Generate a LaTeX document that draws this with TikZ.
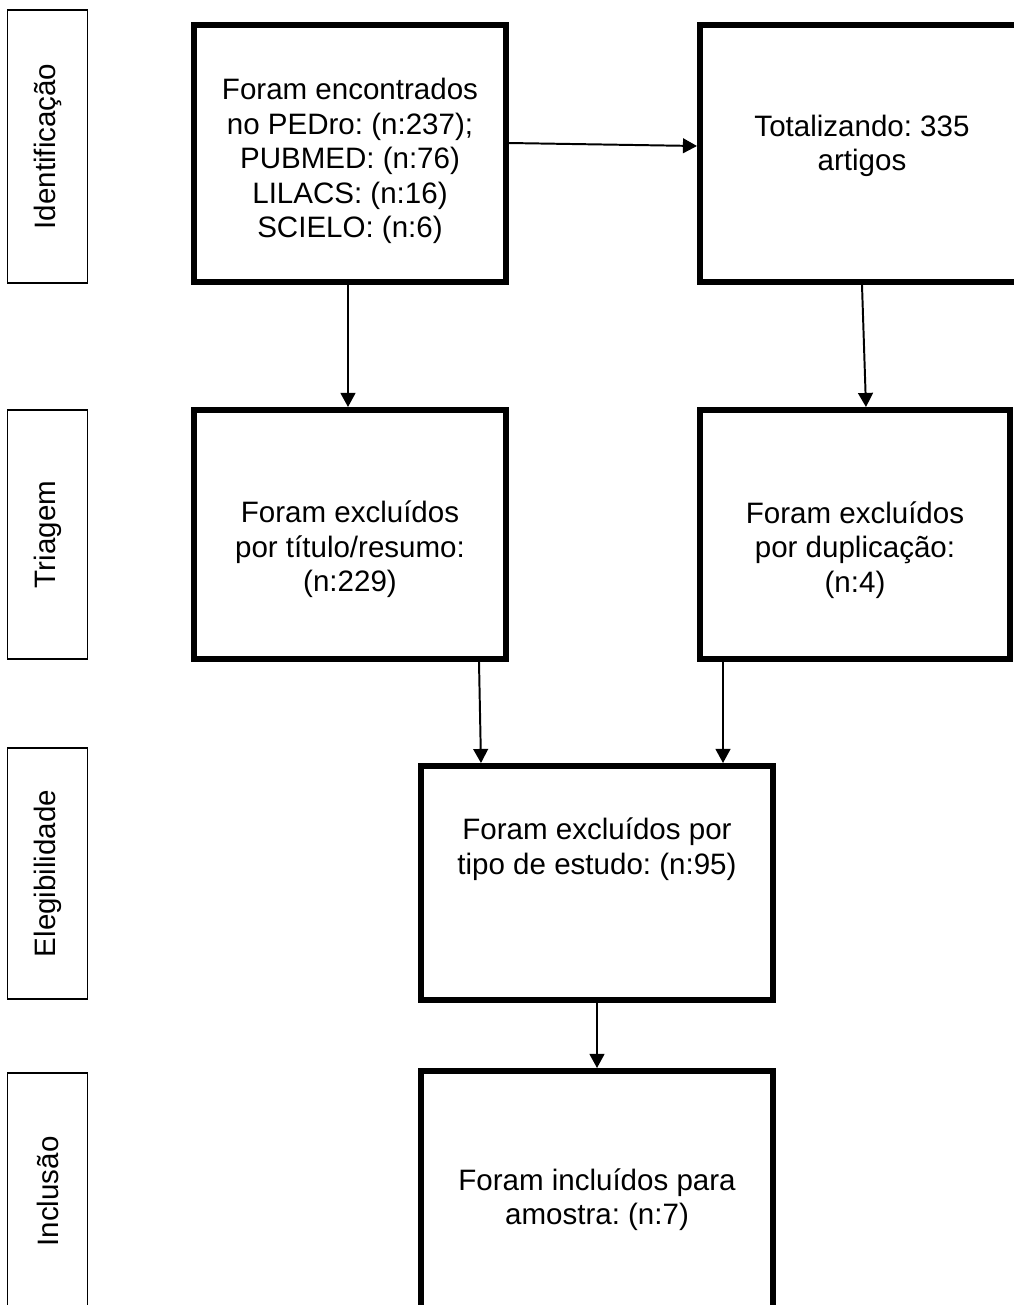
\documentclass[tikz,border=0pt]{standalone}
\usepackage{fontspec}
\setmainfont{Liberation Sans}
\usetikzlibrary{arrows.meta, calc}
\frenchspacing

\begin{document}
\begin{tikzpicture}[x=0.025cm, y=-0.025cm,
    box/.style={draw, line width=4.5pt, inner sep=0pt},
    fase/.style={draw, line width=0.9pt, rotate=90, minimum height=2cm, inner sep=0pt, font=\fontsize{21}{24.5}\selectfont},
    txt/.style={font=\fontsize{21}{24.5}\selectfont, align=center, inner sep=0pt},
    seta/.style={-{Triangle[length=10pt, width=10.5pt]}, line width=1.4pt}]
  \clip (0,0) rectangle (1014,1305);
  % fases
  \node[fase, minimum width=6.825cm] (id) at (47.5,146.5) {Identificação};
  \node[fase, minimum width=6.225cm] (tri) at (47.5,534.5) {Triagem};
  \node[fase, minimum width=6.275cm] (ele) at (47.5,873.5) {Elegibilidade};
  \node[fase, minimum width=5.925cm] (incl) at (47.5,1191.5) {Inclusão};
  % caixas
  \node[box, minimum width=7.79cm, minimum height=6.415cm] (enc) at (350,153.5) {};
  \node[box, minimum width=8.09cm, minimum height=6.415cm] (tot) at (862,153.5) {};
  \node[box, minimum width=7.79cm, minimum height=6.215cm] (tit) at (350,534.5) {};
  \node[box, minimum width=7.74cm, minimum height=6.215cm] (dup) at (855,534.5) {};
  \node[box, minimum width=8.79cm, minimum height=5.84cm] (tipo) at (597,883) {};
  \node[box, minimum width=8.79cm, minimum height=6.29cm] (inc) at (597,1197) {};
  % textos
  \node[txt] (enc-t) at ($(enc)+(0,7.5)$) {Foram encontrados\\no PEDro: (n:237);\\PUBMED: (n:76)\\LILACS: (n:16)\\SCIELO: (n:6)};
  \node[txt] (tot-t) at ($(tot)+(0,-7.5)$) {Totalizando: 335\\artigos};
  \node[txt] (tit-t) at ($(tit)+(0,15)$) {Foram excluídos\\por título/resumo:\\(n:229)};
  \node[txt] (dup-t) at ($(dup)+(0,15.5)$) {Foram excluídos\\por duplicação:\\(n:4)};
  \node[txt] (tipo-t) at ($(tipo)+(0,-34)$) {Foram excluídos por\\tipo de estudo: (n:95)};
  \node[txt] (inc-t) at ($(inc)+(0,2.5)$) {Foram incluídos para\\amostra: (n:7)};
  % setas
  \draw[seta] ($(enc.east)+(0,-10.5)$) -- ($(tot.west)+(0,-7.5)$);
  \draw[seta] ($(enc.south)+(-2,0)$) -- ($(tit.north)+(-2,0)$);
  \draw[seta] (tot.south) -- ($(dup.north)+(11,0)$);
  \draw[seta] ($(tit.south east)+(-30,0)$) -- ($(tipo.north west)+(63,0)$);
  \draw[seta] ($(dup.south west)+(26,0)$) -- ($(tipo.north east)+(-53,0)$);
  \draw[seta] (tipo.south) -- (inc.north);
\end{tikzpicture}
\end{document}
